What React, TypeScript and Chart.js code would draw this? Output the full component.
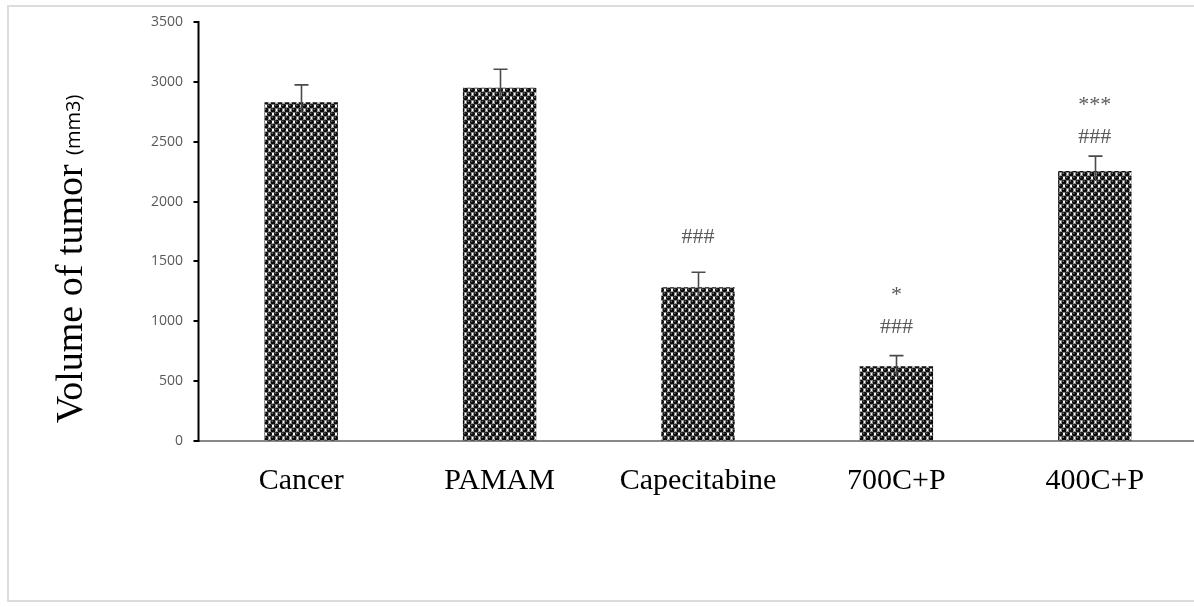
import React, { useEffect, useRef } from "react";
import { Chart, registerables } from "chart.js";

Chart.register(...registerables);

const categories = ["Cancer", "PAMAM", "Capecitabine", "700C+P", "400C+P"];
const tumorVolume = [2830, 2950, 1285, 625, 2255];
const errorValues = [145, 155, 125, 88, 125];
const hashMarks = ["", "", "###", "###", "###"];
const hashLevels = [null, null, 1704, 952, 2539];
const starMarks = ["", "", "", "*", "***"];
const starLevels = [null, null, null, 1245, 2832];
const yTicks = [0, 500, 1000, 1500, 2000, 2500, 3000, 3500];

function makePattern(): CanvasPattern | string {
  const t = document.createElement("canvas");
  t.width = 7;
  t.height = 8;
  const c = t.getContext("2d");
  if (!c) return "#333";
  c.fillStyle = "#ffffff";
  c.fillRect(0, 0, 7, 8);
  const dot = (x: number, y: number) => {
    c.beginPath();
    c.arc(x, y, 2.55, 0, Math.PI * 2);
    c.fillStyle = "#0c0c0c";
    c.fill();
    c.beginPath();
    c.arc(x - 0.7, y - 0.7, 0.7, 0, Math.PI * 2);
    c.fillStyle = "#8a8a8a";
    c.fill();
  };
  dot(3.5, 2);
  dot(0, 6);
  dot(7, 6);
  dot(3.5, 10);
  dot(0, -2);
  dot(7, -2);
  const p = c.createPattern(t, "repeat");
  return p || "#333";
}

const AXIS_X = 198.5;

const axesPlugin = {
  id: "axesLines",
  beforeDatasetsDraw(chart: any) {
    const ctx = chart.ctx;
    const y = chart.scales.y;
    const area = chart.chartArea;
    ctx.save();
    // x axis line
    ctx.strokeStyle = "#888888";
    ctx.lineWidth = 2;
    ctx.beginPath();
    ctx.moveTo(AXIS_X, Math.round(area.bottom));
    ctx.lineTo(chart.width, Math.round(area.bottom));
    ctx.stroke();
    // y axis line + ticks
    ctx.strokeStyle = "#000";
    ctx.beginPath();
    ctx.moveTo(AXIS_X, area.top - 1);
    ctx.lineTo(AXIS_X, area.bottom + 1);
    yTicks.forEach((v) => {
      const py = Math.round(y.getPixelForValue(v));
      ctx.moveTo(AXIS_X - 5, py);
      ctx.lineTo(AXIS_X, py);
    });
    ctx.stroke();
    ctx.restore();
  },
};

const overlayPlugin = {
  id: "overlay",
  afterDatasetsDraw(chart: any) {
    const ctx = chart.ctx;
    const x = chart.scales.x;
    const y = chart.scales.y;
    ctx.save();
    // error bars
    ctx.strokeStyle = "#4a4a4a";
    ctx.lineWidth = 1.6;
    tumorVolume.forEach((v, i) => {
      const cx = Math.round(x.getPixelForValue(i)) + 0.5;
      const yTop = y.getPixelForValue(v + errorValues[i]);
      const yVal = y.getPixelForValue(v);
      ctx.beginPath();
      ctx.moveTo(cx, yVal + 10);
      ctx.lineTo(cx, yTop);
      ctx.moveTo(cx - 7, yTop);
      ctx.lineTo(cx + 7, yTop);
      ctx.stroke();
    });
    // significance marks
    ctx.fillStyle = "#595959";
    ctx.font = '22px "Liberation Serif"';
    ctx.textAlign = "center";
    ctx.textBaseline = "middle";
    hashMarks.forEach((m, i) => {
      const lv = hashLevels[i];
      if (m && lv !== null) ctx.fillText(m, x.getPixelForValue(i), y.getPixelForValue(lv));
    });
    starMarks.forEach((m, i) => {
      const lv = starLevels[i];
      if (m && lv !== null) ctx.fillText(m, x.getPixelForValue(i), y.getPixelForValue(lv) + 3);
    });
    // y axis title
    const main = "Volume of tumor ";
    const unit = "(mm3)";
    ctx.font = '38px "Liberation Serif"';
    const w1 = ctx.measureText(main).width;
    ctx.font = '20px "Open Sans"';
    const w2 = ctx.measureText(unit).width;
    const total = w1 + w2;
    const cy = 259;
    ctx.translate(72, cy);
    ctx.rotate(-Math.PI / 2);
    ctx.textAlign = "left";
    ctx.textBaseline = "middle";
    ctx.fillStyle = "#000";
    ctx.font = '38px "Liberation Serif"';
    ctx.fillText(main, -total / 2, 0);
    ctx.font = '20px "Open Sans"';
    ctx.fillText(unit, -total / 2 + w1, 2);
    ctx.restore();
  },
};

export default function App() {
  const ref = useRef<HTMLCanvasElement>(null);
  useEffect(() => {
    if (!ref.current) return;
    const chart = new Chart(ref.current, {
      type: "bar",
      data: {
        labels: categories,
        datasets: [
          {
            data: tumorVolume,
            backgroundColor: makePattern() as any,
            borderWidth: 0,
            barPercentage: 0.37,
            categoryPercentage: 1,
          },
        ],
      },
      options: {
        responsive: false,
        animation: false,
        events: [],
        layout: { padding: { left: 100, top: 22, right: -6, bottom: 106 } },
        plugins: { legend: { display: false }, tooltip: { enabled: false } },
        scales: {
          x: {
            offset: true,
            grid: { display: false, drawTicks: false },
            border: { display: false },
            ticks: {
              color: "#000",
              font: { family: "Liberation Serif", size: 30 },
              padding: 22,
              maxRotation: 0,
              autoSkip: false,
            },
            afterFit: (s: any) => {
              s.height = 60;
            },
          },
          y: {
            min: 0,
            max: 3500,
            afterBuildTicks: (s: any) => {
              s.ticks = yTicks.map((v) => ({ value: v }));
            },
            grid: {
              display: true,
              drawOnChartArea: false,
              drawTicks: true,
              tickLength: 9,
              color: "rgba(0,0,0,0)",
            },
            border: { display: false },
            ticks: {
              color: "#595959",
              font: { family: "Open Sans", size: 14 },
              padding: 10,
              callback: (v: any) => String(v),
            },
            afterFit: (s: any) => {
              s.width = 102;
            },
          },
        },
      },
      plugins: [axesPlugin, overlayPlugin],
    });
    return () => chart.destroy();
  }, []);
  return (
    <div style={{ position: "absolute", left: 0, top: 0, width: 1194, height: 607, background: "#fff", overflow: "hidden" }}>
      <div
        style={{
          position: "absolute",
          left: 7,
          top: 5,
          width: 1220,
          height: 597,
          border: "2px solid #dcdcdc",
          boxSizing: "border-box",
        }}
      />
      <canvas ref={ref} width={1194} height={607} style={{ position: "absolute", left: 0, top: 0 }} />
    </div>
  );
}
